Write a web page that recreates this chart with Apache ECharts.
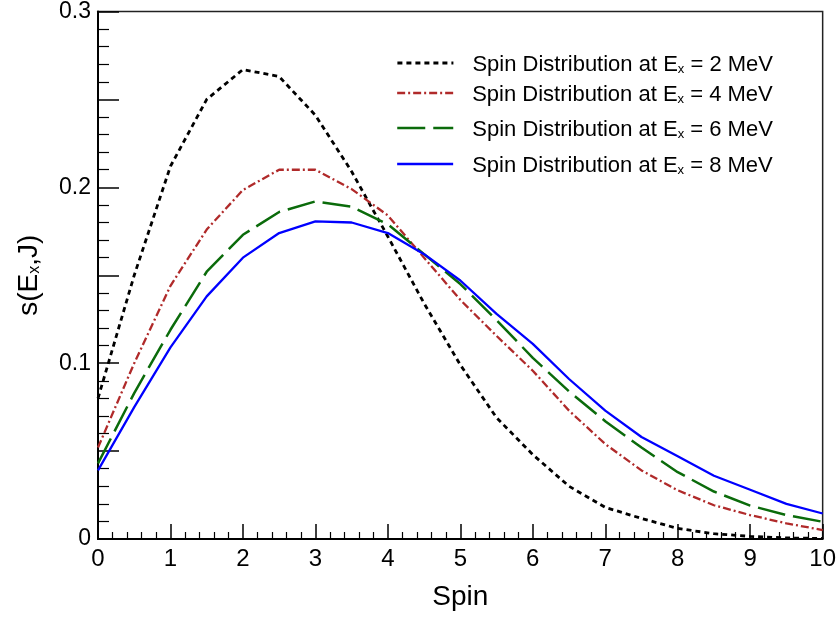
<!DOCTYPE html>
<html>
<head>
<meta charset="utf-8">
<script src="https://cdn.jsdelivr.net/npm/echarts@6/dist/echarts.min.js"></script>
<style>
html,body{margin:0;padding:0;background:#fff;}
#chart{width:839px;height:617px;}
</style>
</head>
<body>
<div id="chart"></div>
<script>
// Spin values (x)
const spins = [0,0.5,1,1.5,2,2.5,3,3.5,4,4.5,5,5.5,6,6.5,7,7.5,8,8.5,9,9.5,10];
// s(Ex,J) for each excitation energy
const ex2MeV = [0.080,0.150,0.212,0.250,0.267,0.263,0.241,0.209,0.172,0.134,0.099,0.069,0.048,0.030,0.018,0.0117,0.006,0.003,0.0015,0.0006,0.0003];
const ex4MeV = [0.052,0.100,0.144,0.176,0.1985,0.210,0.210,0.199,0.184,0.160,0.136,0.1155,0.0957,0.073,0.054,0.039,0.0277,0.0192,0.0136,0.0089,0.0051];
const ex6MeV = [0.043,0.083,0.119,0.152,0.173,0.186,0.192,0.189,0.179,0.162,0.145,0.1245,0.103,0.084,0.067,0.052,0.038,0.027,0.019,0.0136,0.0098];
const ex8MeV = [0.039,0.075,0.109,0.138,0.160,0.174,0.1806,0.180,0.174,0.162,0.147,0.128,0.111,0.091,0.073,0.058,0.047,0.036,0.028,0.020,0.0145];
const energies = ['2','4','6','8'];
const seriesNames = energies.map(e => 'Spin Distribution at Ex = ' + e + ' MeV');
const xTitle = 'Spin';

const FONT = '"Liberation Sans", Arial, Helvetica, sans-serif';
const allData = [ex2MeV, ex4MeV, ex6MeV, ex8MeV];
const colors = ['#000000', '#b02a2a', '#0b6b0b', '#0000ff'];
const dashes = [[5,4], [8,3,2,3], [28,8], 'solid'];
const widths = [2.8, 2.3, 2.5, 2.3];

const series = allData.map((vals, i) => ({
  name: seriesNames[i],
  type: 'line',
  data: spins.map((s, k) => [s, vals[k]]),
  symbol: 'none',
  showSymbol: false,
  smooth: false,
  lineStyle: { color: colors[i], width: widths[i], type: dashes[i] },
  itemStyle: { color: colors[i] },
  z: 2 + i
}));

const legendTops = [49, 79, 114, 150];
const legends = seriesNames.map((n, i) => ({
  data: [n],
  left: 396,
  top: legendTops[i],
  itemWidth: 56,
  itemHeight: 14,
  padding: 0,
  selectedMode: false,
  itemStyle: { color: 'rgba(0,0,0,0)', borderColor: 'rgba(0,0,0,0)', borderWidth: 0, opacity: 0 },
  lineStyle: { color: colors[i], width: widths[i], type: dashes[i] },
  formatter: () => '{g| }{a|Spin Distribution at E}{sub|x}{a| = ' + energies[i] + ' MeV}',
  textStyle: {
    fontFamily: FONT,
    color: '#000',
    rich: {
      g: { width: 14, fontSize: 22, lineHeight: 26, verticalAlign: 'bottom' },
      a: { fontFamily: FONT, fontSize: 22, lineHeight: 22, color: '#000', verticalAlign: 'bottom' },
      sub: { fontFamily: FONT, fontSize: 13, lineHeight: 13, color: '#000', padding: [14,0,0,0], verticalAlign: 'bottom' }
    }
  }
}));

const chart = echarts.init(document.getElementById('chart'), null, { renderer: 'canvas' });
chart.setOption({
  animation: false,
  backgroundColor: '#fff',
  legend: legends,
  grid: {
    left: 98, right: 15, top: 9, bottom: 78,
    show: true, borderColor: '#222', borderWidth: 1.5, backgroundColor: 'transparent'
  },
  xAxis: {
    type: 'value', min: 0, max: 10, interval: 1,
    name: xTitle, nameLocation: 'middle', nameGap: 44,
    nameTextStyle: { fontFamily: FONT, fontSize: 28, color: '#000' },
    axisLine: { show: true, onZero: false, lineStyle: { color: '#000', width: 2 } },
    axisTick: { show: true, inside: true, length: 15, lineStyle: { color: '#000', width: 1.5 } },
    minorTick: { show: true, splitNumber: 5, length: 7, lineStyle: { color: '#000', width: 1.2 } },
    axisLabel: { fontFamily: FONT, fontSize: 24, color: '#000', margin: 8 },
    splitLine: { show: false }
  },
  yAxis: {
    type: 'value', min: 0, max: 0.3, interval: 0.05,
    name: '{a|s(E}{sub|x}{a|,J)}', nameLocation: 'middle', nameGap: 55, nameRotate: 90,
    nameTextStyle: {
      fontFamily: FONT, color: '#000',
      rich: {
        a: { fontFamily: FONT, fontSize: 28, lineHeight: 28, color: '#000', verticalAlign: 'bottom' },
        sub: { fontFamily: FONT, fontSize: 16, lineHeight: 16, color: '#000', padding: [16,0,0,0], verticalAlign: 'bottom' }
      }
    },
    axisLine: { show: true, onZero: false, lineStyle: { color: '#000', width: 2 } },
    axisTick: { show: true, inside: true, length: 21, lineStyle: { color: '#000', width: 1.5 } },
    minorTick: { show: true, splitNumber: 5, length: 11, lineStyle: { color: '#000', width: 1.2 } },
    axisLabel: {
      fontFamily: FONT, fontSize: 23, color: '#000', margin: 7,
      formatter: v => {
        const k = Math.round(v * 100);
        if (k % 10 !== 0) return '';
        return k === 0 ? '0' : (k / 100).toFixed(1);
      }
    },
    splitLine: { show: false }
  },
  series: series
});
</script>
</body>
</html>
